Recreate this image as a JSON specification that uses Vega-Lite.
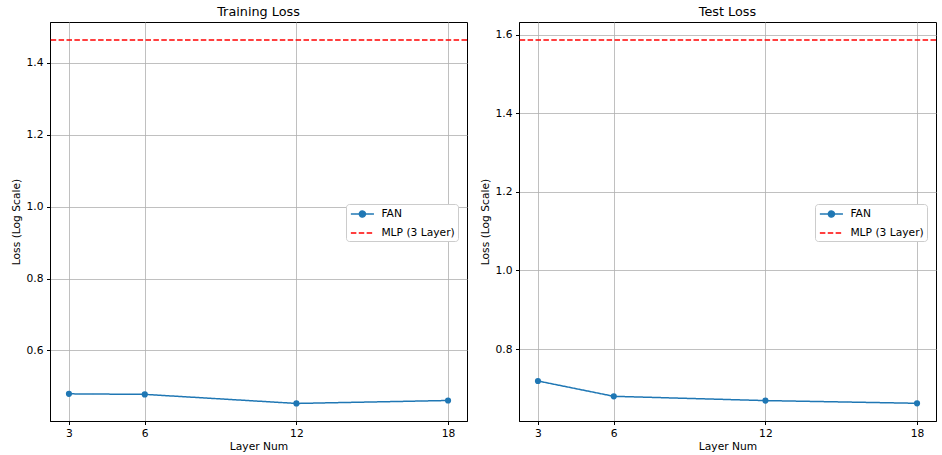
{
  "$schema": "https://vega.github.io/schema/vega-lite/v6.json",
  "padding": {"left": 9, "top": 5, "right": 4, "bottom": 4},
  "autosize": {"type": "pad"},
  "datasets": {
    "fan": [
      {"panel": "train", "layer": 3, "loss": 0.4795, "series": "FAN"},
      {"panel": "train", "layer": 6, "loss": 0.478, "series": "FAN"},
      {"panel": "train", "layer": 12, "loss": 0.4528, "series": "FAN"},
      {"panel": "train", "layer": 18, "loss": 0.461, "series": "FAN"},
      {"panel": "test", "layer": 3, "loss": 0.7185, "series": "FAN"},
      {"panel": "test", "layer": 6, "loss": 0.6795, "series": "FAN"},
      {"panel": "test", "layer": 12, "loss": 0.6686, "series": "FAN"},
      {"panel": "test", "layer": 18, "loss": 0.6617, "series": "FAN"}
    ],
    "mlp": [
      {"panel": "train", "loss": 1.463, "series": "MLP (3 Layer)"},
      {"panel": "test", "loss": 1.587, "series": "MLP (3 Layer)"}
    ]
  },
  "config": {
    "font": "DejaVu Sans",
    "view": {"stroke": "black", "strokeWidth": 1},
    "axis": {
      "grid": true, "gridColor": "#b0b0b0", "gridWidth": 0.8,
      "domainColor": "black", "tickColor": "black", "tickSize": 3.5,
      "labelFontSize": 10.7, "labelColor": "black", "labelFont": "DejaVu Sans", "labelPadding": 3.5,
      "titleFontSize": 10.7, "titleFontWeight": "normal", "titleColor": "black", "titleFont": "DejaVu Sans"
    },
    "title": {"fontSize": 12.8, "fontWeight": "normal", "font": "DejaVu Sans", "color": "black", "offset": 3},
    "legend": {
      "orient": "none", "legendX": 296, "legendY": 182,
      "fillColor": "white", "strokeColor": "#cccccc", "cornerRadius": 3, "padding": 3,
      "labelFontSize": 10.7, "labelFont": "DejaVu Sans", "labelColor": "black",
      "symbolSize": 150, "rowPadding": 5, "labelOffset": 12, "symbolOffset": 6.4
    }
  },
  "spacing": 9,
  "resolve": {"legend": {"color": "independent", "strokeDash": "independent"}},
  "hconcat": [
    {
      "width": 417, "height": 399,
      "title": "Training Loss",
      "layer": [
        {
          "data": {"name": "fan"},
          "transform": [{"filter": "datum.panel === 'train'"}],
          "mark": {"type": "line", "strokeWidth": 1.5, "point": {"filled": true, "size": 38}},
          "encoding": {
            "x": {"field": "layer", "type": "quantitative", "scale": {"domain": [2.25, 18.75], "nice": false, "zero": false}, "axis": {"values": [3, 6, 12, 18], "title": "Layer Num", "titlePadding": 4}},
            "y": {"field": "loss", "type": "quantitative", "scale": {"domain": [0.404, 1.513], "nice": false, "zero": false}, "axis": {"values": [0.6, 0.8, 1.0, 1.2, 1.4], "format": ".1f", "title": "Loss (Log Scale)", "titlePadding": 5}},
            "color": {"field": "series", "type": "nominal", "scale": {"domain": ["FAN", "MLP (3 Layer)"], "range": ["#1f77b4", "#ff0000"]},
              "legend": {"title": null, "encode": {"symbols": {"update": {
                "shape": {"signal": "datum.value === 'FAN' ? 'M-1.885,0L1.885,0M-0.49,0a0.49,0.49 0 1,0 0.98,0a0.49,0.49 0 1,0 -0.98,0' : 'M-1.885,0L1.885,0'"},
                "fill": {"signal": "datum.value === 'FAN' ? '#1f77b4' : 'transparent'"},
                "strokeWidth": {"value": 1.5}
              }}}}},
            "strokeDash": {"field": "series", "type": "nominal", "scale": {"domain": ["FAN", "MLP (3 Layer)"], "range": [[1, 0], [5.5, 2.4]]}, "legend": {"title": null}}
          }
        },
        {
          "data": {"name": "mlp"},
          "transform": [{"filter": "datum.panel === 'train'"}],
          "mark": {"type": "rule", "strokeWidth": 1.5},
          "encoding": {
            "y": {"field": "loss", "type": "quantitative"},
            "color": {"field": "series", "type": "nominal"},
            "strokeDash": {"field": "series", "type": "nominal"}
          }
        }
      ]
    },
    {
      "width": 417, "height": 399,
      "title": "Test Loss",
      "layer": [
        {
          "data": {"name": "fan"},
          "transform": [{"filter": "datum.panel === 'test'"}],
          "mark": {"type": "line", "strokeWidth": 1.5, "point": {"filled": true, "size": 38}},
          "encoding": {
            "x": {"field": "layer", "type": "quantitative", "scale": {"domain": [2.25, 18.75], "nice": false, "zero": false}, "axis": {"values": [3, 6, 12, 18], "title": "Layer Num", "titlePadding": 4}},
            "y": {"field": "loss", "type": "quantitative", "scale": {"domain": [0.6166, 1.633], "nice": false, "zero": false}, "axis": {"values": [0.8, 1.0, 1.2, 1.4, 1.6], "format": ".1f", "title": "Loss (Log Scale)", "titlePadding": 5}},
            "color": {"field": "series", "type": "nominal", "scale": {"domain": ["FAN", "MLP (3 Layer)"], "range": ["#1f77b4", "#ff0000"]},
              "legend": {"title": null, "encode": {"symbols": {"update": {
                "shape": {"signal": "datum.value === 'FAN' ? 'M-1.885,0L1.885,0M-0.49,0a0.49,0.49 0 1,0 0.98,0a0.49,0.49 0 1,0 -0.98,0' : 'M-1.885,0L1.885,0'"},
                "fill": {"signal": "datum.value === 'FAN' ? '#1f77b4' : 'transparent'"},
                "strokeWidth": {"value": 1.5}
              }}}}},
            "strokeDash": {"field": "series", "type": "nominal", "scale": {"domain": ["FAN", "MLP (3 Layer)"], "range": [[1, 0], [5.5, 2.4]]}, "legend": {"title": null}}
          }
        },
        {
          "data": {"name": "mlp"},
          "transform": [{"filter": "datum.panel === 'test'"}],
          "mark": {"type": "rule", "strokeWidth": 1.5},
          "encoding": {
            "y": {"field": "loss", "type": "quantitative"},
            "color": {"field": "series", "type": "nominal"},
            "strokeDash": {"field": "series", "type": "nominal"}
          }
        }
      ]
    }
  ]
}
